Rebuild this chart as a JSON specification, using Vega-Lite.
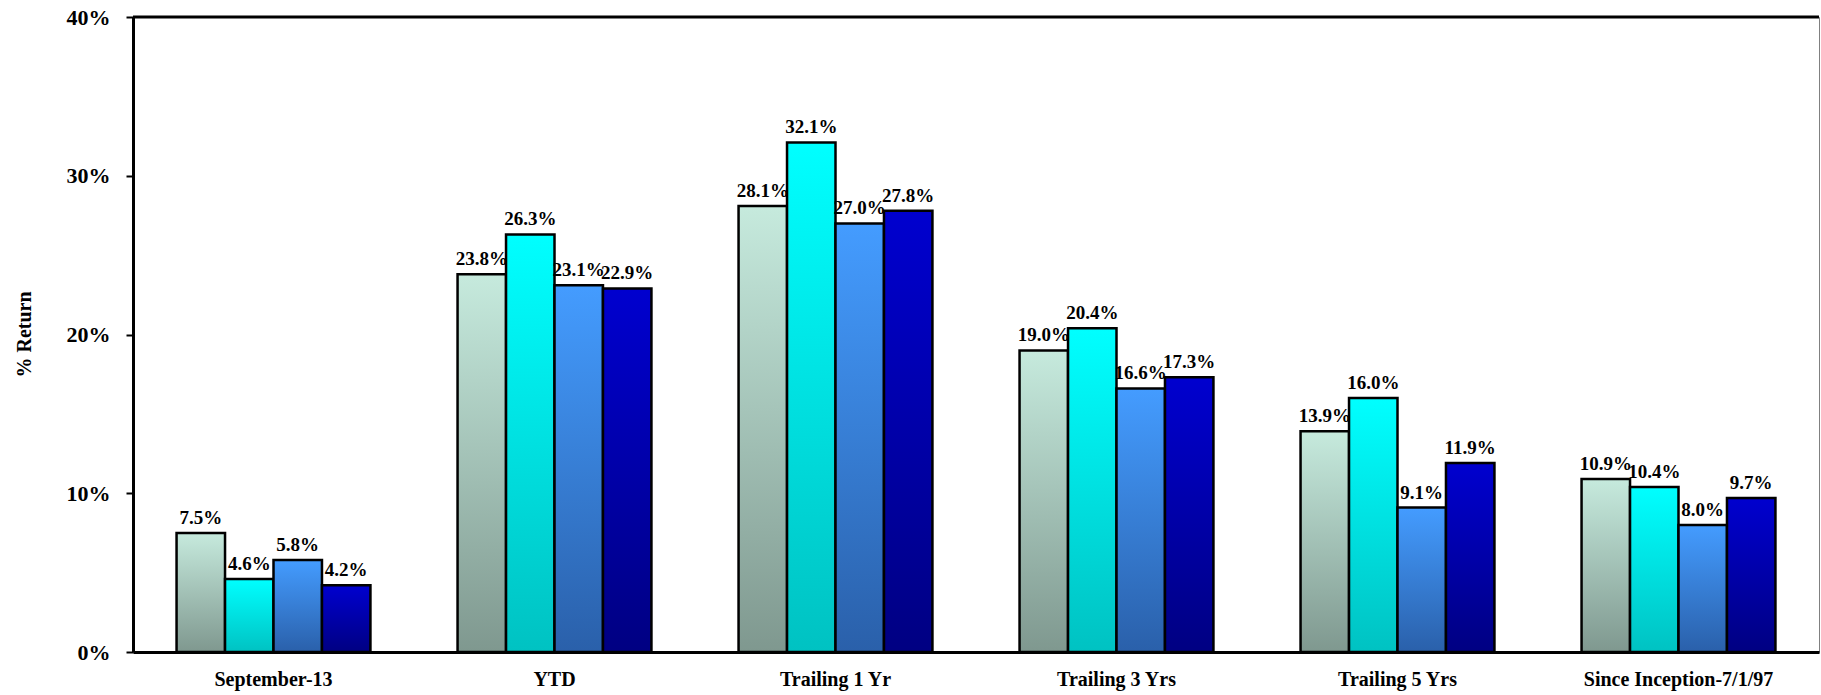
{
  "$schema": "https://vega.github.io/schema/vega-lite/v6.json",
  "width": 1686,
  "height": 635,
  "autosize": "none",
  "padding": {"left": 133, "top": 17, "right": 2, "bottom": 43},
  "background": "white",
  "config": {
    "view": {"stroke": "#808080", "strokeWidth": 1},
    "font": "Liberation Serif"
  },
  "layer": [
    {
      "data": {
        "values": [
          {"cat": "September-13", "series": "Series 1", "v": 0.075},
          {"cat": "September-13", "series": "Series 2", "v": 0.046},
          {"cat": "September-13", "series": "Series 3", "v": 0.058},
          {"cat": "September-13", "series": "Series 4", "v": 0.042},
          {"cat": "YTD", "series": "Series 1", "v": 0.238},
          {"cat": "YTD", "series": "Series 2", "v": 0.263},
          {"cat": "YTD", "series": "Series 3", "v": 0.231},
          {"cat": "YTD", "series": "Series 4", "v": 0.229},
          {"cat": "Trailing 1 Yr", "series": "Series 1", "v": 0.281},
          {"cat": "Trailing 1 Yr", "series": "Series 2", "v": 0.321},
          {"cat": "Trailing 1 Yr", "series": "Series 3", "v": 0.270},
          {"cat": "Trailing 1 Yr", "series": "Series 4", "v": 0.278},
          {"cat": "Trailing 3 Yrs", "series": "Series 1", "v": 0.190},
          {"cat": "Trailing 3 Yrs", "series": "Series 2", "v": 0.204},
          {"cat": "Trailing 3 Yrs", "series": "Series 3", "v": 0.166},
          {"cat": "Trailing 3 Yrs", "series": "Series 4", "v": 0.173},
          {"cat": "Trailing 5 Yrs", "series": "Series 1", "v": 0.139},
          {"cat": "Trailing 5 Yrs", "series": "Series 2", "v": 0.160},
          {"cat": "Trailing 5 Yrs", "series": "Series 3", "v": 0.091},
          {"cat": "Trailing 5 Yrs", "series": "Series 4", "v": 0.119},
          {"cat": "Since Inception-7/1/97", "series": "Series 1", "v": 0.109},
          {"cat": "Since Inception-7/1/97", "series": "Series 2", "v": 0.104},
          {"cat": "Since Inception-7/1/97", "series": "Series 3", "v": 0.080},
          {"cat": "Since Inception-7/1/97", "series": "Series 4", "v": 0.097}
        ]
      },
      "encoding": {
        "x": {
          "field": "cat", "type": "nominal", "sort": null,
          "scale": {"paddingInner": 0.31, "paddingOuter": 0.155},
          "axis": {
            "title": null, "labelAngle": 0, "labelFontSize": 20, "labelFontWeight": "bold",
            "labelColor": "black", "labelPadding": 17, "ticks": false, "labelLimit": 0,
            "domainColor": "black", "domainWidth": 3, "labelFont": "Liberation Serif"
          }
        },
        "xOffset": {"field": "series", "type": "nominal", "sort": null, "scale": {"paddingInner": 0, "paddingOuter": 0}},
        "y": {
          "field": "v", "type": "quantitative",
          "scale": {"domain": [0, 0.4], "nice": false},
          "axis": {
            "values": [0, 0.1, 0.2, 0.3, 0.4], "format": ".0%", "grid": false,
            "labelFontSize": 22, "labelFontWeight": "bold", "labelColor": "black", "labelFont": "Liberation Serif",
            "tickSize": 7, "tickColor": "black", "tickWidth": 2, "labelPadding": 16,
            "domainColor": "black", "domainWidth": 3,
            "title": "% Return", "titleFontSize": 20, "titleFontWeight": "bold", "titleColor": "black",
            "titleFont": "Liberation Serif", "titleX": -109, "titleY": 317, "titleAlign": "center",
            "titleBaseline": "middle", "titleAngle": -90
          }
        }
      },
      "layer": [
        {
          "mark": {"type": "bar", "stroke": "black", "strokeWidth": 2.5},
          "encoding": {
            "fill": {
              "condition": [
                {"test": "datum.series === 'Series 1'", "value": {"gradient": "linear", "x1": 0, "y1": 0, "x2": 0, "y2": 1, "stops": [{"offset": 0, "color": "#c6eadd"}, {"offset": 1, "color": "#7f988f"}]}},
                {"test": "datum.series === 'Series 2'", "value": {"gradient": "linear", "x1": 0, "y1": 0, "x2": 0, "y2": 1, "stops": [{"offset": 0, "color": "#00ffff"}, {"offset": 1, "color": "#00c2c2"}]}},
                {"test": "datum.series === 'Series 3'", "value": {"gradient": "linear", "x1": 0, "y1": 0, "x2": 0, "y2": 1, "stops": [{"offset": 0, "color": "#449cff"}, {"offset": 1, "color": "#2a60aa"}]}}
              ],
              "value": {"gradient": "linear", "x1": 0, "y1": 0, "x2": 0, "y2": 1, "stops": [{"offset": 0, "color": "#0000cf"}, {"offset": 1, "color": "#000082"}]}
            }
          }
        },
        {
          "mark": {"type": "text", "baseline": "alphabetic", "dy": -9, "fontSize": 19, "fontWeight": "bold", "font": "Liberation Serif", "color": "black"},
          "encoding": {"text": {"field": "v", "type": "quantitative", "format": ".1%"}}
        }
      ]
    },
    {
      "data": {"values": [{"top": 0.4}]},
      "mark": {"type": "rule", "color": "black", "strokeWidth": 3},
      "encoding": {"y": {"field": "top", "type": "quantitative"}}
    }
  ]
}
